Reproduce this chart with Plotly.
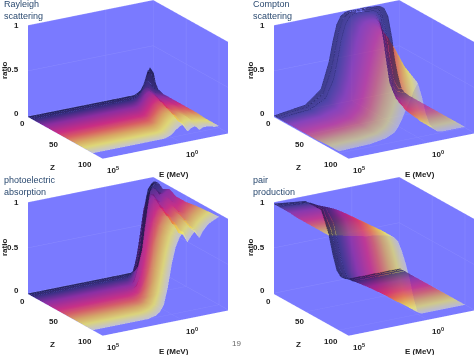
import plotly.graph_objects as go

LOG_E = [5, 3, 2, 1.5, 1.25, 1, .75, .5, .25, 0, -.25, -.5, -.75, -1, -1.25, -1.5, -1.75, -2, -2.25, -2.5, -2.75, -3]
Z_ROWS = [1, 4, 8, 15, 25, 35, 50, 65, 80, 100]

RAYLEIGH = [
 [0,0,0,0,0,0,0,0,0,0,0,0,0,0,0,0,0,.02,.05,.17,.27,.2],
 [0,0,0,0,0,0,0,0,0,0,0,0,0,0,0,0,.01,.04,.12,.26,.2,.1],
 [0,0,0,0,0,0,0,0,0,0,0,0,0,0,0,.01,.03,.1,.18,.13,.07,.05],
 [0,0,0,0,0,0,0,0,0,0,0,0,0,0,.01,.04,.12,.14,.1,.06,.05,.03],
 [0,0,0,0,0,0,0,0,0,0,0,0,0,.01,.05,.13,.14,.1,.06,.06,.04,.03],
 [0,0,0,0,0,0,0,0,0,0,0,0,.01,.06,.13,.15,.13,.06,.07,.05,.05,.03],
 [0,0,0,0,0,0,0,0,0,0,0,.01,.07,.13,.15,.14,.06,.08,.07,.05,.05,.03],
 [0,0,0,0,0,0,0,0,0,0,.01,.07,.12,.14,.13,.06,.08,.07,.05,.05,.03,.03],
 [0,0,0,0,0,0,0,0,0,.01,.05,.1,.13,.14,.05,.08,.09,.05,.05,.04,.03,.02],
 [0,0,0,0,0,0,0,0,.01,.03,.07,.1,.12,.03,.06,.07,.02,.04,.04,.03,.02,.02],
]
COMPTON = [
 [.01,.06,.2,.48,.7,.88,.96,.99,1,1,1,1,1,1,.99,.99,.98,.95,.85,.6,.3,.1],
 [.01,.05,.16,.4,.6,.82,.94,.98,1,1,1,1,1,.99,.99,.98,.9,.7,.4,.15,.06,.04],
 [.01,.04,.13,.32,.52,.75,.9,.97,.99,1,1,1,.99,.99,.97,.9,.65,.3,.12,.05,.03,.02],
 [.01,.03,.1,.25,.42,.65,.85,.95,.98,.99,.99,.99,.98,.95,.84,.5,.2,.08,.03,.02,.02,.01],
 [.01,.03,.08,.2,.34,.56,.78,.92,.97,.98,.98,.97,.93,.8,.48,.18,.06,.02,.02,.01,.01,.01],
 [.01,.03,.07,.16,.28,.48,.7,.87,.95,.97,.95,.9,.68,.42,.18,.07,.03,.02,.01,.01,.01,.01],
 [.01,.03,.06,.13,.23,.4,.6,.78,.9,.94,.88,.62,.35,.15,.06,.03,.02,.01,.01,.01,.01,.01],
 [.01,.03,.05,.11,.19,.33,.5,.68,.8,.84,.72,.46,.24,.1,.04,.02,.01,.01,.01,.01,.01,.01],
 [.02,.03,.05,.1,.16,.27,.42,.55,.67,.7,.55,.32,.15,.06,.03,.01,.01,.01,.01,.01,.01,.01],
 [.02,.03,.06,.1,.15,.23,.33,.42,.52,.6,.45,.25,.12,.06,.02,.01,.01,.01,.01,.01,.01,.01],
]
PHOTO = [
 [0,0,0,0,0,0,0,0,0,0,0,0,0,0,0,0,.01,.05,.22,.55,.85,.96],
 [0,0,0,0,0,0,0,0,0,0,0,0,0,0,0,.02,.07,.3,.68,.9,.96,.97],
 [0,0,0,0,0,0,0,0,0,0,0,0,0,0,.02,.08,.3,.62,.86,.94,.96,.97],
 [0,0,0,0,0,0,0,0,0,0,0,0,0,.03,.12,.45,.75,.9,.95,.96,.88,.93],
 [0,0,0,0,0,0,0,0,0,0,0,0,.03,.17,.55,.82,.92,.95,.85,.91,.95,.97],
 [0,0,0,0,0,0,0,0,0,0,.01,.03,.38,.6,.8,.9,.94,.84,.9,.93,.88,.93],
 [0,0,0,0,0,0,0,0,.01,.03,.12,.42,.66,.82,.9,.92,.82,.88,.9,.84,.9,.93],
 [0,0,0,0,0,0,0,.01,.05,.18,.45,.68,.82,.9,.92,.8,.86,.89,.82,.88,.92,.95],
 [0,0,0,0,0,.01,.02,.05,.14,.34,.58,.76,.86,.9,.77,.84,.88,.8,.86,.9,.93,.96],
 [0,0,0,0,.01,.02,.05,.12,.3,.55,.73,.83,.88,.76,.82,.87,.78,.85,.9,.93,.95,.97],
]
PAIR = [
 [.99,.95,.82,.52,.3,.12,.04,.01,0,0,0,0,0,0,0,0,0,0,0,0,0,0],
 [.99,.95,.84,.6,.4,.18,.06,.02,0,0,0,0,0,0,0,0,0,0,0,0,0,0],
 [.99,.96,.87,.68,.48,.25,.1,.03,0,0,0,0,0,0,0,0,0,0,0,0,0,0],
 [.99,.97,.9,.75,.58,.35,.15,.05,.01,0,0,0,0,0,0,0,0,0,0,0,0,0],
 [.99,.97,.92,.8,.66,.44,.22,.08,.02,0,0,0,0,0,0,0,0,0,0,0,0,0],
 [.98,.97,.93,.84,.72,.52,.29,.12,.03,0,0,0,0,0,0,0,0,0,0,0,0,0],
 [.98,.97,.94,.87,.77,.6,.38,.18,.05,.01,0,0,0,0,0,0,0,0,0,0,0,0],
 [.98,.97,.95,.89,.81,.66,.47,.26,.09,.01,0,0,0,0,0,0,0,0,0,0,0,0],
 [.98,.97,.95,.9,.84,.71,.53,.33,.13,.02,0,0,0,0,0,0,0,0,0,0,0,0],
 [.98,.97,.94,.9,.85,.73,.58,.4,.18,.02,0,0,0,0,0,0,0,0,0,0,0,0],
]
TABLES = [RAYLEIGH, COMPTON, PHOTO, PAIR]
OPACITIES = [.85, .6, .82, .72]
TITLES = ["Rayleigh<br>scattering", "Compton<br>scattering", "photoelectric<br>absorption", "pair<br>production"]
RATIO_TICKS = ["1", "0.5", "0"]
Z_TICKS = ["0", "50", "100"]
E_TICKS = ["10<sup>5</sup>", "10<sup>0</sup>"]
LOW_Z_LINES = [0, 1, 2]

WALL = "#7a7aff"
GRID = "#8a8aff"
CMAP = [[0, "#14143c"], [.1, "#32206e"], [.25, "#8f1f90"], [.45, "#d8206e"], [.58, "#e85a48"],
        [.72, "#e8b048"], [.85, "#f0e860"], [1, "#d0d0d0"]]

W, H = 474, 355
DX, DY = 246, 177
SCALE = 1.85
fig = go.Figure()
ann = []
def label(px, py, text, size=8, bold=True, **kw):
    kw.setdefault("xanchor", "center")
    kw.setdefault("yanchor", "middle")
    color = kw.pop("color", "#222222")
    ann.append(dict(x=px / W, y=1 - py / H, xref="paper", yref="paper", text=f"<b>{text}</b>" if bold else text, showarrow=False,
                    font=dict(family="Liberation Sans", size=size, color=color), **kw))

layout = {}
for i, tab in enumerate(TABLES):
    col, row = i % 2, i // 2
    name = "scene" if i == 0 else f"scene{i+1}"
    ox, oy = col * DX, row * DY
    fig.add_trace(go.Surface(
        x=LOG_E, y=Z_ROWS, z=tab,
        surfacecolor=[[z for _ in LOG_E] for z in Z_ROWS],
        cmin=0, cmax=100, colorscale=CMAP, showscale=False, opacity=OPACITIES[i], scene=name, hoverinfo="skip",
        lighting=dict(ambient=1, diffuse=0, specular=0, fresnel=0, roughness=1),
        contours=dict(x=dict(highlight=False), y=dict(highlight=False), z=dict(highlight=False)),
    ))
    for k in LOW_Z_LINES:
        fig.add_trace(go.Scatter3d(x=LOG_E, y=[Z_ROWS[k]] * len(LOG_E), z=tab[k], mode="lines", scene=name,
                                   line=dict(color="#2a2a70", width=1), hoverinfo="skip", showlegend=False))
    ax = dict(showticklabels=False, ticks="", title="", showspikes=False, zeroline=False, showline=False,
              showbackground=True, backgroundcolor=WALL, gridcolor=GRID, gridwidth=1)
    layout[name] = dict(
        domain=dict(x=[(28 + ox) / W, (228 + ox) / W], y=[1 - (159 + oy) / H, 1 - oy / H]),
        xaxis=dict(ax, range=[-3, 5], tickvals=[5, 0]),
        yaxis=dict(ax, range=[0, 115], tickvals=[0, 50, 100]),
        zaxis=dict(ax, range=[0, 1], tickvals=[0, .5, 1]),
        aspectmode="manual", aspectratio=dict(x=SCALE, y=SCALE, z=.655 * SCALE),
        camera=dict(projection=dict(type="orthographic"), up=dict(x=0, y=0, z=1), center=dict(x=0, y=0, z=0),
                    eye=dict(x=.485, y=.808, z=.335)),
    )
    for t, py in zip(RATIO_TICKS, [25, 70, 113]):
        label(21 + ox, py + oy, t, xanchor="right")
    label(5 + ox, 71 + oy, "ratio", textangle=-90)
    for t, px, py in zip(Z_TICKS, [22, 53, 85], [124, 144, 164]):
        label(px + ox, py + oy, t)
    label(52 + ox, 167 + oy, "Z")
    for t, px, py in zip(E_TICKS, [113, 192], [170, 154]):
        label(px + ox, py + oy, t)
    label(174 + ox, 174 + oy, "E (MeV)")
    label((2 if col == 0 else 251), (10 if row == 0 else 186), TITLES[i], size=9, bold=False, xanchor="left", align="left", color="#2b4a70")

label(236, 343, "19", bold=False, color="#666666")
fig.update_layout(width=W, height=H, margin=dict(l=0, r=0, t=0, b=0), paper_bgcolor="white",
                  showlegend=False, annotations=ann, **layout)
fig.write_html("out.html", config=dict(displayModeBar=False),
               post_script="document.body.style.margin='0';document.body.style.overflow='hidden';")
